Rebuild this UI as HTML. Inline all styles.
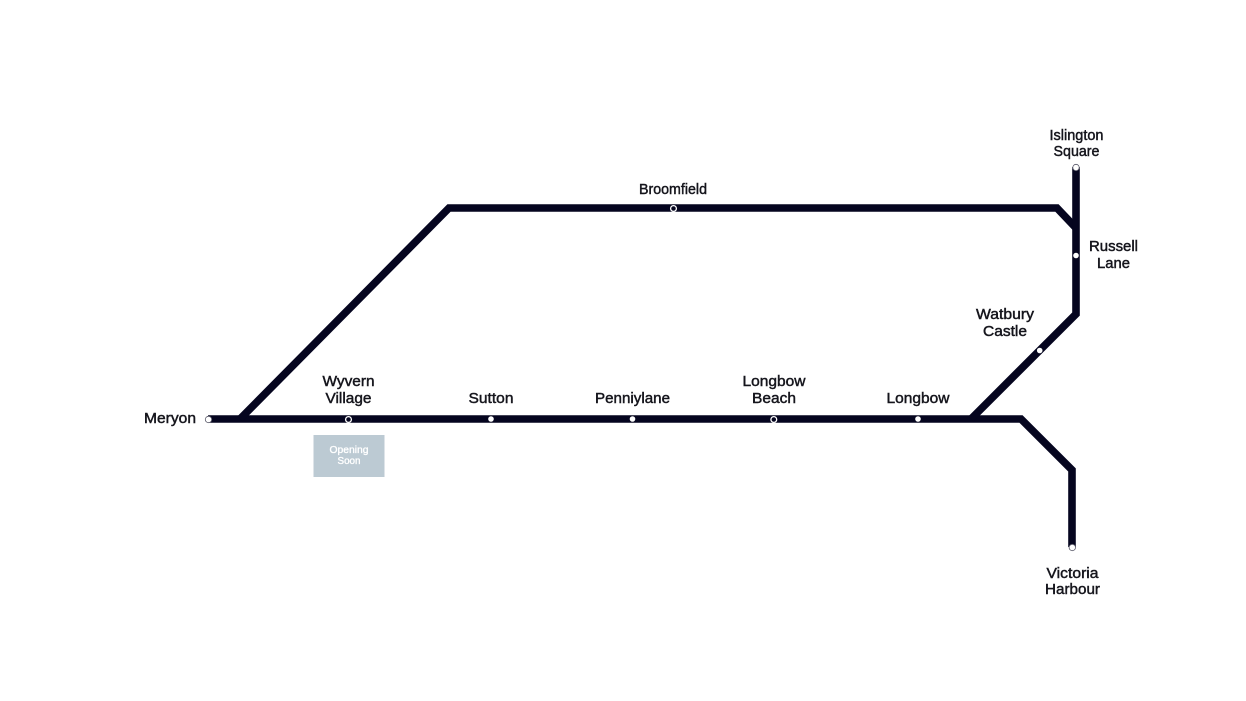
<!DOCTYPE html>
<html>
<head>
<meta charset="utf-8">
<style>
html,body{margin:0;padding:0;background:#fff;width:1246px;height:701px;overflow:hidden}
svg{display:block}
text{font-family:"Liberation Sans",sans-serif;font-size:14.500px;fill:#15151c;text-anchor:middle;stroke:#15151c;stroke-width:.45px}
text.s{font-size:10px;fill:#fff;stroke:#fff;stroke-width:.35px}
</style>
</head>
<body>
<svg width="1246" height="701" viewBox="0 0 1246 701" xmlns="http://www.w3.org/2000/svg">
<g fill="none" stroke="#05051f" stroke-width="7.600" stroke-linejoin="miter">
<path d="M208 419H1021L1072 470V547"/>
<path d="M240 419L449 208H1057L1076 228"/>
<path d="M1076 167V314L971 419"/>
</g>
<g stroke="#5a5a6a" stroke-width=".8" fill="#fff">
<circle cx="208.500" cy="419.500" r="3.200"/>
<circle cx="1076" cy="167.500" r="3.200"/>
<circle cx="1072.300" cy="547.500" r="3.200"/>
</g>
<g stroke="#fff" stroke-width="1.300" fill="#05051f">
<circle cx="348.500" cy="419.500" r="2.900"/>
<circle cx="673.500" cy="208.500" r="2.900"/>
<circle cx="773.800" cy="419.500" r="2.900"/>
</g>
<g fill="#fff">
<circle cx="491" cy="419" r="2.800"/>
<circle cx="632.500" cy="419" r="2.800"/>
<circle cx="918" cy="419" r="2.800"/>
<circle cx="1076" cy="255.500" r="2.800"/>
<circle cx="1039.700" cy="350.500" r="2.800"/>
</g>
<rect x="313.500" y="435" width="71" height="42" fill="#bccad3"/>
<text class="s" x="349" y="453" textLength="39" lengthAdjust="spacingAndGlyphs">Opening</text>
<text class="s" x="349" y="464" textLength="23" lengthAdjust="spacingAndGlyphs">Soon</text>
<text x="170" y="423" textLength="52" lengthAdjust="spacingAndGlyphs">Meryon</text>
<text x="348.500" y="386" textLength="52" lengthAdjust="spacingAndGlyphs">Wyvern</text>
<text x="348.500" y="403" textLength="46" lengthAdjust="spacingAndGlyphs">Village</text>
<text x="491" y="403" textLength="45" lengthAdjust="spacingAndGlyphs">Sutton</text>
<text x="632.500" y="403" textLength="75" lengthAdjust="spacingAndGlyphs">Penniylane</text>
<text x="774" y="386" textLength="63" lengthAdjust="spacingAndGlyphs">Longbow</text>
<text x="774" y="403" textLength="44" lengthAdjust="spacingAndGlyphs">Beach</text>
<text x="918" y="403" textLength="63" lengthAdjust="spacingAndGlyphs">Longbow</text>
<text x="673" y="194" textLength="68" lengthAdjust="spacingAndGlyphs">Broomfield</text>
<text x="1076.500" y="140" textLength="54" lengthAdjust="spacingAndGlyphs">Islington</text>
<text x="1076.500" y="156" textLength="46" lengthAdjust="spacingAndGlyphs">Square</text>
<text x="1113.500" y="251" textLength="49" lengthAdjust="spacingAndGlyphs">Russell</text>
<text x="1113.500" y="268" textLength="33" lengthAdjust="spacingAndGlyphs">Lane</text>
<text x="1005" y="319" textLength="58" lengthAdjust="spacingAndGlyphs">Watbury</text>
<text x="1005" y="336" textLength="44" lengthAdjust="spacingAndGlyphs">Castle</text>
<text x="1072.500" y="578" textLength="52" lengthAdjust="spacingAndGlyphs">Victoria</text>
<text x="1072.500" y="594" textLength="55" lengthAdjust="spacingAndGlyphs">Harbour</text>
</svg>
</body>
</html>
